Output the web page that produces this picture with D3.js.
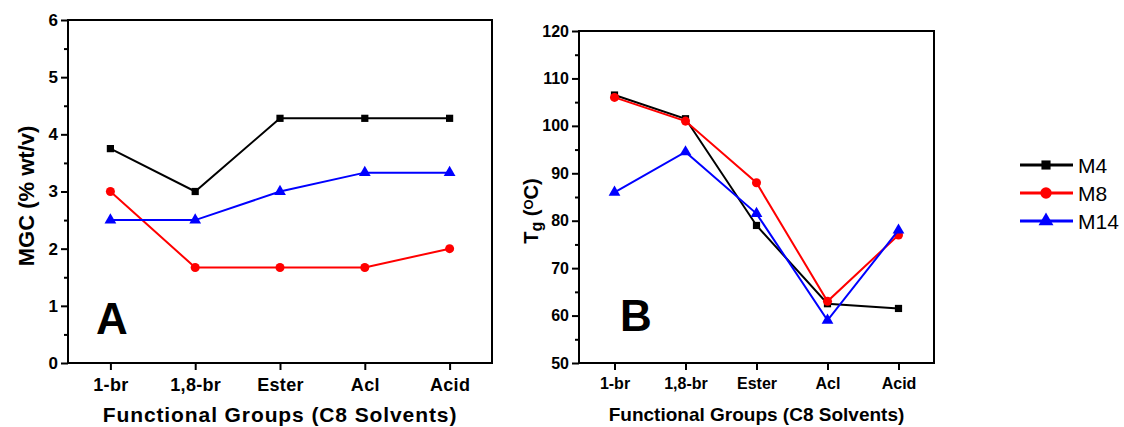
<!DOCTYPE html>
<html>
<head>
<meta charset="utf-8">
<script src="https://cdn.jsdelivr.net/npm/d3@7"></script>
<style>
  body { margin: 0; background: #fff; }
  svg { display: block; font-family: "Liberation Sans", Arial, sans-serif; }
</style>
</head>
<body>
<svg width="1124" height="427"></svg>
<script>
// solvents on the x axis
const categories = ["1-br", "1,8-br", "Ester", "Acl", "Acid"];
const seriesNames = ["M4", "M8", "M14"];
const seriesColors = ["#000000", "#ff0000", "#0000ff"];
const seriesShapes = ["square", "circle", "triangle"];

// panel A: MGC (% wt/v)
const mgcM4 = [3.75, 3.0, 4.28, 4.28, 4.28];
const mgcM8 = [3.0, 1.67, 1.67, 1.67, 2.0];
const mgcM14 = [2.5, 2.5, 3.0, 3.33, 3.33];
const mgcTicks = [0, 1, 2, 3, 4, 5, 6];

// panel B: Tg (oC)
const tgM4 = [106.5, 101.5, 79, 62.5, 61.5];
const tgM8 = [106, 101, 88, 63, 77];
const tgM14 = [86, 94.5, 81.5, 59, 78];
const tgTicks = [50, 60, 70, 80, 90, 100, 110, 120];

const svg = d3.select("svg");

const symbolFor = {
  square: d3.symbolSquare,
  circle: d3.symbolCircle,
  triangle: d3.symbolTriangle
};
const symbolSize = { square: 52, circle: 64, triangle: 60 };

function panel(opts) {
  const { left, right, top, bottom, domain, ticks, series, fs, titleFs, yTitle } = opts;
  const g = svg.append("g");

  const x = d3.scalePoint().domain(categories).range([left, right]).padding(0.5);
  const y = d3.scaleLinear().domain(domain).range([bottom, top]);

  // minor ticks at half steps
  const step = ticks[1] - ticks[0];
  const minor = ticks.slice(0, -1).map(t => t + step / 2);
  g.append("g")
    .attr("transform", `translate(${left},0)`)
    .call(d3.axisLeft(y).tickValues(minor).tickSize(4).tickFormat(""))
    .call(a => a.select(".domain").remove())
    .selectAll("line").attr("stroke-width", 2);

  const yAxis = g.append("g")
    .attr("transform", `translate(${left},0)`)
    .call(d3.axisLeft(y).tickValues(ticks).tickSize(7).tickPadding(3).tickFormat(d3.format("d")));
  yAxis.select(".domain").remove();
  yAxis.selectAll("line").attr("stroke-width", 2);
  yAxis.selectAll("text")
    .attr("fill", "#000")
    .style("font-size", fs + "px")
    .style("font-weight", "bold")
    .style("font-family", "'Liberation Sans', Arial, sans-serif");

  const xAxis = g.append("g")
    .attr("transform", `translate(0,${bottom})`)
    .call(d3.axisBottom(x).tickSize(7).tickPadding(8));
  xAxis.select(".domain").remove();
  xAxis.selectAll("line").attr("stroke-width", 2);
  xAxis.selectAll("text")
    .attr("fill", "#000")
    .style("font-size", opts.xfs + "px")
    .style("font-weight", "bold")
    .style("letter-spacing", opts.xls + "px")
    .style("font-family", "'Liberation Sans', Arial, sans-serif");

  // frame
  g.append("rect")
    .attr("x", left).attr("y", top)
    .attr("width", right - left).attr("height", bottom - top)
    .attr("fill", "none").attr("stroke", "#000").attr("stroke-width", 2);

  const line = d3.line().x((d, i) => x(categories[i])).y(d => y(d));

  series.forEach((vals, si) => {
    g.append("path")
      .datum(vals)
      .attr("d", line)
      .attr("fill", "none")
      .attr("stroke", seriesColors[si])
      .attr("stroke-width", 2);
    const shape = seriesShapes[si];
    g.selectAll(null)
      .data(vals)
      .enter()
      .append("path")
      .attr("transform", (d, i) => `translate(${x(categories[i])},${y(d)})`)
      .attr("d", d3.symbol().type(symbolFor[shape]).size(symbolSize[shape]))
      .attr("fill", seriesColors[si]);
  });

  // x title
  g.append("text")
    .attr("x", (left + right) / 2)
    .attr("y", opts.xTitleY)
    .attr("text-anchor", "middle")
    .style("font-size", titleFs + "px")
    .style("font-weight", "bold")
    .style("letter-spacing", opts.tls + "px")
    .text("Functional Groups (C8 Solvents)");

  // y title
  const yt = g.append("text")
    .attr("transform", `translate(${opts.yTitleX},${opts.yTitleY}) rotate(-90)`)
    .attr("text-anchor", "middle")
    .style("font-size", opts.yTitleFs + "px")
    .style("font-weight", "bold");
  yTitle(yt);

  // panel letter
  g.append("text")
    .attr("x", opts.letterX)
    .attr("y", opts.letterY)
    .style("font-size", "44px")
    .style("font-weight", "bold")
    .text(opts.letter);
}

panel({
  left: 68, right: 492, top: 20, bottom: 363,
  domain: [0, 6], ticks: mgcTicks,
  series: [mgcM4, mgcM8, mgcM14],
  fs: 17, xfs: 18, xls: 0.3, titleFs: 21, tls: 0.9,
  xTitleY: 422,
  yTitleX: 34, yTitleY: 196, yTitleFs: 22,
  yTitle: t => t.text("MGC (% wt/v)"),
  letter: "A", letterX: 96, letterY: 334
});

panel({
  left: 579, right: 934, top: 31, bottom: 363,
  domain: [50, 120], ticks: tgTicks,
  series: [tgM4, tgM8, tgM14],
  fs: 16, xfs: 16, xls: 0, titleFs: 19, tls: 0,
  xTitleY: 421,
  yTitleX: 538, yTitleY: 211, yTitleFs: 20,
  yTitle: t => {
    t.append("tspan").text("T");
    t.append("tspan").attr("baseline-shift", "-25%").style("font-size", "16px").text("g");
    t.append("tspan").text(" (");
    t.append("tspan").attr("baseline-shift", "40%").style("font-size", "13px").text("O");
    t.append("tspan").text("C)");
  },
  letter: "B", letterX: 620, letterY: 331
});

// legend
const legend = svg.append("g").attr("transform", "translate(1020,165)");
seriesNames.forEach((name, i) => {
  const row = legend.append("g").attr("transform", `translate(0,${i * 28})`);
  row.append("line")
    .attr("x1", 0).attr("x2", 53).attr("y1", 0).attr("y2", 0)
    .attr("stroke", seriesColors[i]).attr("stroke-width", 3);
  const shape = seriesShapes[i];
  row.append("path")
    .attr("transform", "translate(26,0)")
    .attr("d", d3.symbol().type(symbolFor[shape]).size(symbolSize[shape] * 1.6))
    .attr("fill", seriesColors[i]);
  row.append("text")
    .attr("x", 58).attr("y", 0).attr("dy", "0.36em")
    .style("font-size", "21px")
    .text(name);
});
</script>
</body>
</html>
